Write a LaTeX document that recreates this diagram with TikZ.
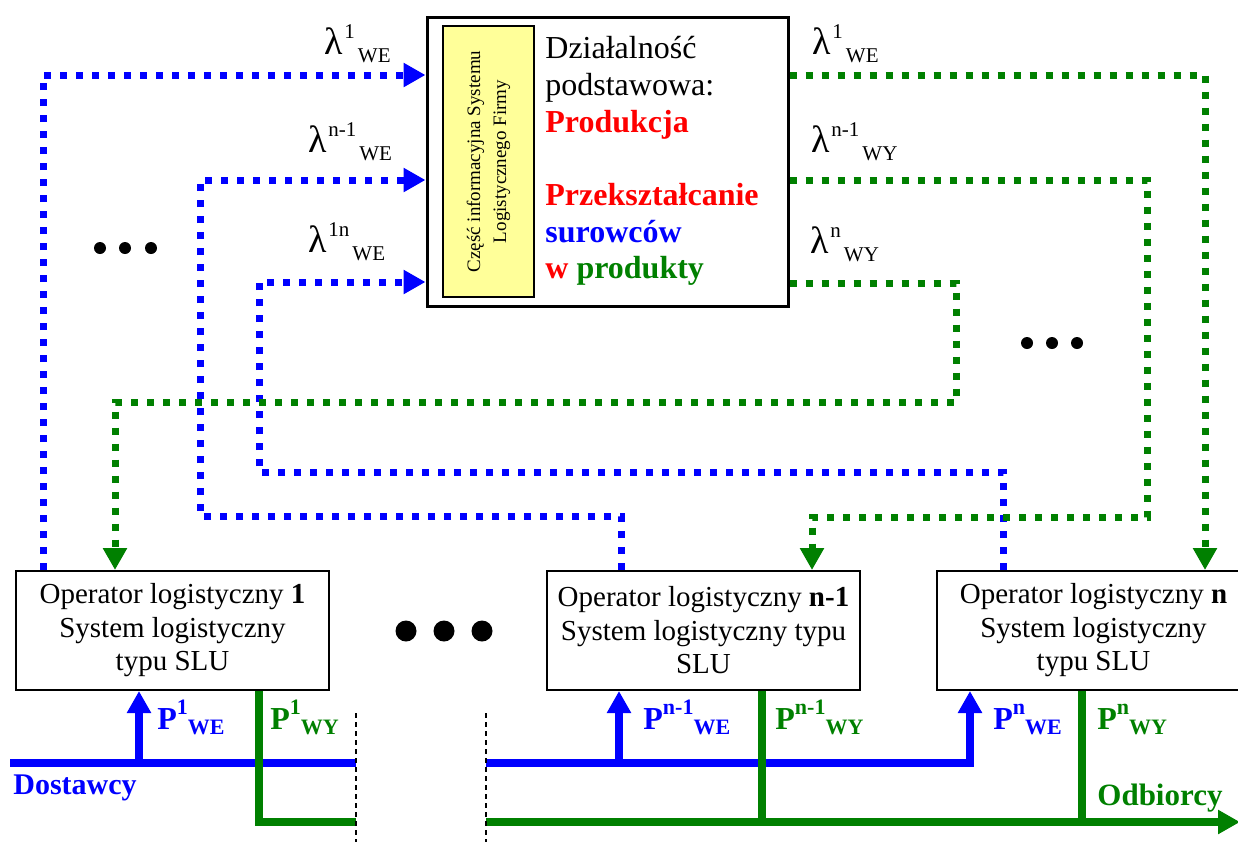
\documentclass[tikz,border=0pt]{standalone}
\usepackage{fontspec}
\setmainfont{Liberation Serif}
\usetikzlibrary{arrows.meta}
\definecolor{cblue}{RGB}{0,0,255}
\definecolor{cgreen}{RGB}{0,128,0}
\definecolor{cred}{RGB}{255,0,0}
\definecolor{cyel}{RGB}{255,255,153}

% lambda flow label: \lamlbl{superscript}{subscript}
\newcommand\lamlbl[2]{{\fontsize{19}{19}\selectfont λ}\kern0.8pt\raisebox{8pt}{\fontsize{10.5}{10.5}\selectfont #1}\kern1.5pt\raisebox{-4pt}{\fontsize{10.5}{10.5}\selectfont #2}}
% material flow label: \plbl{superscript}{subscript}
\newcommand\plbl[2]{{\fontsize{16}{16}\selectfont\bfseries P}\raisebox{7.5pt}{\fontsize{11}{11}\selectfont\bfseries #1}\raisebox{-2.5pt}{\fontsize{11}{11}\selectfont\bfseries #2}}

\begin{document}
\begin{tikzpicture}[x=0.5pt,y=-0.5pt,
  bdot/.style={draw=cblue,line width=3.5pt,dash pattern=on 3.5pt off 4.5pt},
  gdot/.style={draw=cgreen,line width=3.5pt,dash pattern=on 3.5pt off 4.5pt},
  bline/.style={draw=cblue,line width=3.75pt},
  gline/.style={draw=cgreen,line width=3.75pt},
  tip/.style={-{Triangle[length=11pt,width=11.5pt]}},
  sep/.style={draw=black,line width=0.6pt,dash pattern=on 2.5pt off 2pt},
  opbox/.style={draw,line width=1pt,fill=white,minimum width=156.5pt,minimum height=59.5pt,
    align=center,inner sep=0pt,font=\fontsize{14.5}{16.75}\selectfont},
  desc/.style={anchor=base west,inner sep=0pt,font=\fontsize{16}{16}\selectfont},
  lbl/.style={anchor=base west,inner sep=0pt},
  bigdot/.style={fill=black}
]
\useasboundingbox (0,0) rectangle (1238,842);
\clip (0,0) rectangle (1238,842);

% central firm box
\node[draw,line width=1.5pt,fill=white,minimum width=180.5pt,minimum height=144.5pt,inner sep=0pt] (core) at (607.5,161.5) {};
\node[draw,line width=0.8pt,fill=cyel,rotate=90,minimum width=135.5pt,minimum height=45.5pt,
  inner sep=0pt,align=center,font=\fontsize{9.5}{13}\selectfont] (info) at (488.5,161.5)
  {Część informacyjna Systemu\\Logistycznego Firmy};
\node[desc] (d1) at (545,58) {Działalność};
\node[desc] (d2) at (545,95) {podstawowa:};
\node[desc,text=cred,font=\fontsize{16}{16}\selectfont\bfseries] (d3) at (545,132) {Produkcja};
\node[desc,text=cred,font=\fontsize{16}{16}\selectfont\bfseries] (d4) at (545,205) {Przekształcanie};
\node[desc,text=cblue,font=\fontsize{16}{16}\selectfont\bfseries] (d5) at (545,242) {surowców};
\node[desc,font=\fontsize{16}{16}\selectfont\bfseries] (d6) at (545,278) {\textcolor{cred}{w} \textcolor{cgreen}{produkty}};

% logistics operators
\node[opbox] (op1) at (172.5,630.5) {Operator logistyczny \textbf{1}\\System logistyczny\\typu SLU};
\node[opbox] (opn1) at (703.5,630.5) {Operator logistyczny \textbf{n-1}\\System logistyczny typu\\SLU};
\node[opbox] (opn) at (1093.5,630.5) {Operator logistyczny \textbf{n}\\System logistyczny\\typu SLU};

% information flows into the firm
\draw[bdot,tip] (op1.north -| 43,0) |- (core.west |- 0,75);
\draw[bdot,tip] (opn1.north -| 621,0) |- (200,516) |- (core.west |- 0,180);
\draw[bdot,tip] (opn.north -| 1003,0) |- (259,472) |- (core.west |- 0,282);

% information flows out of the firm
\draw[gdot,tip] (core.east |- 0,75) -| (opn.north -| 1205,0);
\draw[gdot,tip] (core.east |- 0,180) -| (1147,517) -| (opn1.north -| 812,0);
\draw[gdot,tip] (core.east |- 0,283) -| (956,402) -| (op1.north -| 115,0);

% flow labels
\node[lbl] (l1) at (324,54) {\lamlbl{1}{WE}};
\node[lbl] (l2) at (308,152) {\lamlbl{n-1}{WE}};
\node[lbl] (l3) at (308,252) {\lamlbl{1n}{WE}};
\node[lbl] (r1) at (812,54) {\lamlbl{1}{WE}};
\node[lbl] (r2) at (811,152) {\lamlbl{n-1}{WY}};
\node[lbl] (r3) at (810,253) {\lamlbl{n}{WY}};

% ellipses
\fill[bigdot] (100,248) circle[radius=3pt] (125,248) circle[radius=3pt] (151,248) circle[radius=3pt];
\fill[bigdot] (1027,343) circle[radius=3pt] (1052,343) circle[radius=3pt] (1077,343) circle[radius=3pt];
\fill[bigdot] (406,631) circle[radius=5.25pt] (444,631) circle[radius=5.25pt] (482,631) circle[radius=5.25pt];

% material flows
\coordinate (bs) at (10,763);
\coordinate (be1) at (356,763);
\coordinate (b1) at (139,763);
\coordinate (bs2) at (486,763);
\coordinate (b2) at (619,763);
\coordinate (ge1) at (356,822);
\coordinate (gs2) at (486,822);
\coordinate (g2) at (762,822);
\coordinate (g3) at (1082,822);
\coordinate (gend) at (1240,822);

\draw[bline] (bs) -- (be1);
\draw[bline,tip] (b1) -- (op1.south -| b1);
\draw[bline,tip] (b2) -- (opn1.south -| b2);
\draw[bline,tip] (bs2) -| (opn.south -| 970,0);

\draw[gline] (op1.south -| 259,0) |- (ge1);
\draw[gline,tip] (gs2) -- (gend);
\draw[gline] (opn1.south -| g2) -- (g2);
\draw[gline] (opn.south -| g3) -- (g3);

% cut marks
\coordinate (c1a) at (356,713); \coordinate (c1b) at (356,842);
\coordinate (c2a) at (486,713); \coordinate (c2b) at (486,842);
\draw[sep] (c1a) -- (c1b);
\draw[sep] (c2a) -- (c2b);

% material flow labels
\node[lbl,text=cblue] (p1) at (157,729) {\plbl{1}{WE}};
\node[lbl,text=cgreen] (p2) at (270,729) {\plbl{1}{WY}};
\node[lbl,text=cblue] (p3) at (643,729) {\plbl{n-1}{WE}};
\node[lbl,text=cgreen] (p4) at (775,729) {\plbl{n-1}{WY}};
\node[lbl,text=cblue] (p5) at (993,729) {\plbl{n}{WE}};
\node[lbl,text=cgreen] (p6) at (1097,729) {\plbl{n}{WY}};

\node[lbl,text=cblue,font=\fontsize{15}{15}\selectfont\bfseries] (dost) at (13,794) {Dostawcy};
\node[lbl,text=cgreen,font=\fontsize{15.5}{15.5}\selectfont\bfseries] (odb) at (1097,805) {Odbiorcy};
\end{tikzpicture}
\end{document}
